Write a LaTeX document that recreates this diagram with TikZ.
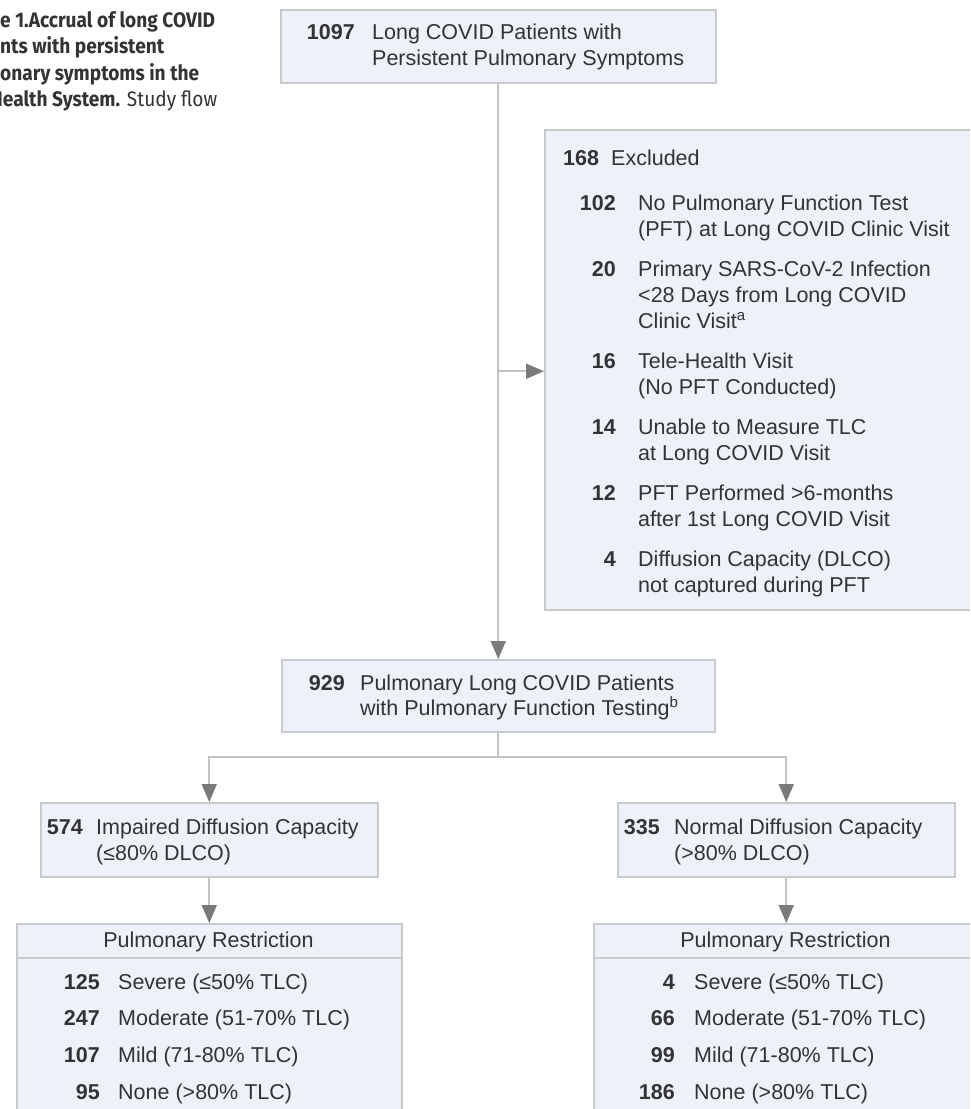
\documentclass[tikz,border=0pt]{standalone}
\usepackage{fontspec}
\setmainfont{Liberation Sans}
\newfontfamily\capfont[FakeStretch=0.91]{Fira Sans}
\usetikzlibrary{arrows.meta,positioning,calc}

\definecolor{boxfill}{HTML}{EDF2F9}
\definecolor{boxline}{HTML}{C8CACC}
\definecolor{linkgray}{HTML}{C4C4C4}
\definecolor{tipgray}{HTML}{7A7A7A}
\definecolor{ink}{HTML}{333333}

\tikzset{
  box/.style={draw=boxline, line width=1.5pt, fill=boxfill, rectangle, inner sep=0pt, anchor=north west},
  txt/.style={inner sep=0pt, font=\fontsize{21.5}{26}\selectfont, text=ink, anchor=base west},
  num/.style={txt, font=\fontsize{21.5}{26}\selectfont\bfseries, anchor=base east},
  line/.style={draw=linkgray, line width=2pt},
  arr/.style={line, -{Triangle[length=18pt,width=15pt,color=tipgray]}},
  captext/.style={inner sep=0pt, anchor=base west, font=\capfont\fontsize{21}{26}\selectfont, text=ink}
}

\begin{document}
\begin{tikzpicture}[x=1pt, y=-1pt]
    \useasboundingbox (0,0) rectangle (970,1109);
    \clip (0,0) rectangle (970,1109);

    % caption (cut at the left edge)
    \node[captext] (CapL1) at (0,27) {\bfseries e 1.Accrual of long COVID};
    \node[captext] (CapL2) at (0,53) {\bfseries nts with persistent};
    \node[captext] (CapL3) at (0,80) {\bfseries onary symptoms in the};
    \node[captext] (CapL4) at (-10,106) {\textbf{Health System.} Study flow};

    % boxes
    \node[box, minimum width=435, minimum height=73] (Top) at (280,9) {};
    \node[box, minimum width=440, minimum height=480] (Excl) at (544,129) {};
    \node[box, minimum width=433, minimum height=72] (Mid) at (281,659) {};
    \node[box, minimum width=337, minimum height=74] (Impaired) at (40,802) {};
    \node[box, minimum width=337, minimum height=74] (Normal) at (617,802) {};
    \node[box, minimum width=385, minimum height=200] (ImpRestr) at (16,923) {};
    \node[box, minimum width=390, minimum height=200] (NormRestr) at (593,923) {};
    \draw[draw=boxline, line width=1.5pt] ($(ImpRestr.north west)+(0,35)$) -- ($(ImpRestr.north east)+(0,35)$);
    \draw[draw=boxline, line width=1.5pt] ($(NormRestr.north west)+(0,35)$) -- ($(NormRestr.north east)+(0,35)$);

    % top box
    \node[num] (TopN) at (355,39) {1097};
    \node[txt] (TopT1) at (372,39) {Long COVID Patients with};
    \node[txt] (TopT2) at (372,65) {Persistent Pulmonary Symptoms};

    % excluded
    \node[num, anchor=base west] (ExclN) at (563,165) {168};
    \node[txt] (ExclT) at (611,165) {Excluded};
    \foreach \y/\n in {210/102, 276/20, 368/16, 434/14, 500/12, 566/4}
        \node[num] (ExclN\y) at (616,\y) {\n};
    \foreach \y/\t in {210/No Pulmonary Function Test, 236/(PFT) at Long COVID Clinic Visit,
        276/Primary SARS-CoV-2 Infection, 302/<28 Days from Long COVID, 328/Clinic Visit\textsuperscript{a},
        368/Tele-Health Visit, 394/(No PFT Conducted),
        434/Unable to Measure TLC, 460/at Long COVID Visit,
        500/PFT Performed >6-months, 526/after 1st Long COVID Visit,
        566/Diffusion Capacity (DLCO), 592/not captured during PFT}
        \node[txt] (ExclT\y) at (638,\y) {\t};

    % middle box
    \node[num] (MidN) at (345,690) {929};
    \node[txt] (MidT1) at (360,690) {Pulmonary Long COVID Patients};
    \node[txt] (MidT2) at (360,715) {with Pulmonary Function Testing\textsuperscript{b}};

    % diffusion capacity
    \node[num] (ImpN) at (83,834) {574};
    \node[txt] (ImpT1) at (96,834) {Impaired Diffusion Capacity};
    \node[txt] (ImpT2) at (96,860) {(≤80\% DLCO)};
    \node[num] (NormN) at (660,834) {335};
    \node[txt] (NormT1) at (674,834) {Normal Diffusion Capacity};
    \node[txt] (NormT2) at (674,860) {(>80\% DLCO)};

    % restriction
    \node[txt, anchor=base] (ImpHead) at (208.5,947) {Pulmonary Restriction};
    \node[txt, anchor=base] (NormHead) at (785.5,947) {Pulmonary Restriction};
    \foreach \y/\l/\r/\t in {989/125/4/Severe (≤50\% TLC), 1025/247/66/Moderate (51-70\% TLC),
        1062/107/99/Mild (71-80\% TLC), 1099/95/186/None (>80\% TLC)} {
        \node[num] (ImpN\y) at (100,\y) {\l};
        \node[txt] (ImpT\y) at (118,\y) {\t};
        \node[num] (NormN\y) at (675,\y) {\r};
        \node[txt] (NormT\y) at (694,\y) {\t};
    }

    % connectors
    \coordinate (Split) at ($(Top.south)!0.5!(Mid.north)$);
    \draw[arr] (Top.south) -- (Mid.north);
    \draw[arr] (Split) -- (Split -| Excl.west);
    \draw[line] (Mid.south) -- ++(0,24) coordinate (Fork);
    \draw[arr] (Fork) -| (Impaired.north);
    \draw[arr] (Fork) -| (Normal.north);
    \draw[arr] (Impaired.south) -- (ImpRestr.north);
    \draw[arr] (Normal.south) -- (Normal.south |- NormRestr.north);
\end{tikzpicture}
\end{document}
